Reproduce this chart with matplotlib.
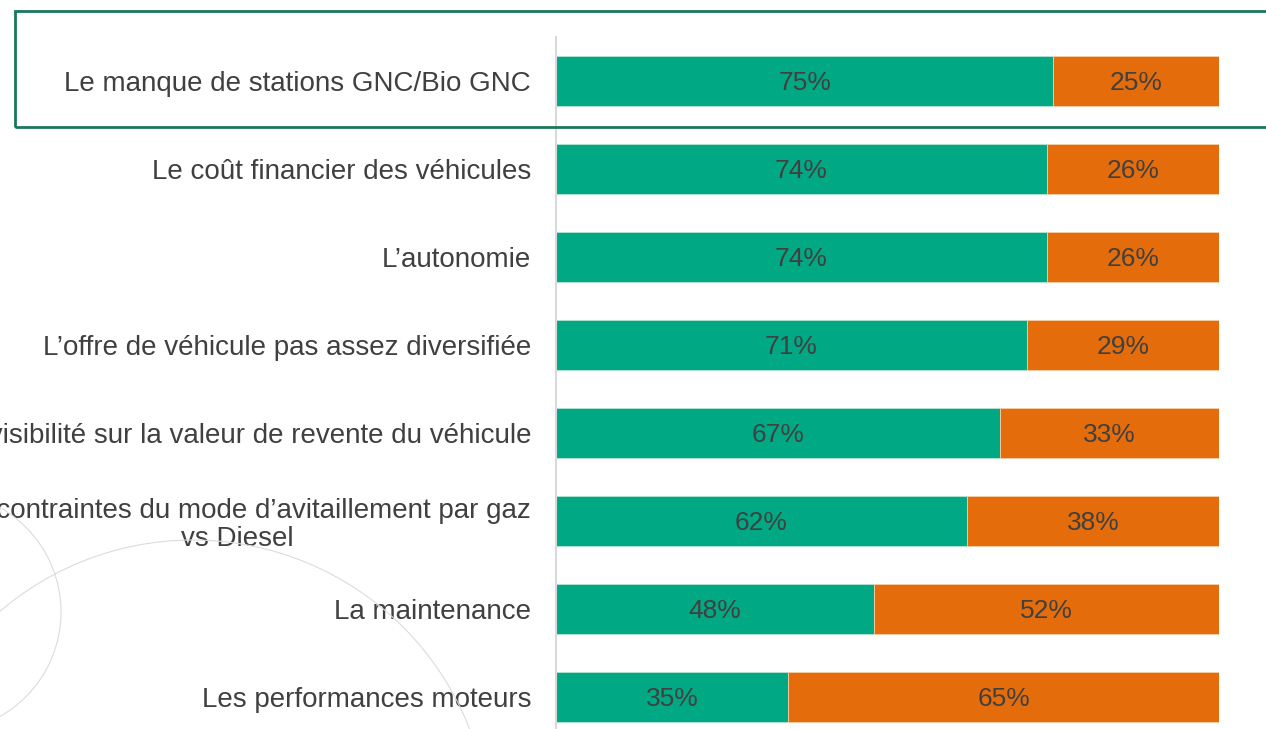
import matplotlib.pyplot as plt
from matplotlib.patches import Rectangle, Circle

# Daten
categories = [
    "Le manque de stations GNC/Bio GNC",
    "Le coût financier des véhicules",
    "L\u2019autonomie",
    "L\u2019offre de véhicule pas assez diversifiée",
    "Le manque de visibilité sur la valeur de revente du véhicule",
    "Les contraintes du mode d\u2019avitaillement par gaz\nvs Diesel",
    "La maintenance",
    "Les performances moteurs",
]
part_green = [75, 74, 74, 71, 67, 62, 48, 35]
part_orange = [25, 26, 26, 29, 33, 38, 52, 65]

green = '#00A884'
orange = '#E46C0A'
txt = '#404040'

plt.rcParams['font.family'] = ['Liberation Sans', 'DejaVu Sans']

fig = plt.figure(figsize=(12.66, 7.29), dpi=100)
W, H = 1266, 729

# Kreise im Hintergrund (Deko), Angaben in Pixel
for cx, cy, r in [(-59, 612, 120), (193, 837, 297)]:
    c = Circle((cx / 100, (H - cy) / 100), r / 100, transform=fig.dpi_scale_trans,
               fill=False, edgecolor='#dcdcdc', linewidth=0.8, zorder=0)
    fig.patches.append(c)

ax = fig.add_axes([556 / W, 1 - 741 / H, 663 / W, 704 / H])
ax.patch.set_alpha(0)

y = list(range(len(categories)))
ax.barh(y, part_green, height=0.557, color=green, edgecolor='#b8e3d6', linewidth=0.6)
ax.barh(y, part_orange, left=part_green, height=0.557, color=orange, edgecolor='#f5cda8', linewidth=0.6)

for i in y:
    ax.text(part_green[i] / 2, i, f"{part_green[i]}%", ha='center', va='center_baseline',
            fontsize=19, color=txt)
    ax.text(part_green[i] + part_orange[i] / 2, i, f"{part_orange[i]}%", ha='center',
            va='center_baseline', fontsize=19, color=txt)

ax.set_xlim(0, 100)
ax.set_ylim(7.5, -0.5)
ax.set_yticks(y)
ax.set_yticklabels(categories, fontsize=20, color=txt, linespacing=1.1)
ax.tick_params(axis='y', length=0, pad=18)
ax.set_xticks([])
for s in ['top', 'right', 'bottom']:
    ax.spines[s].set_visible(False)
ax.spines['left'].set_color('#d9d9d9')
ax.spines['left'].set_linewidth(1.5)
for lab in ax.get_yticklabels():
    lab.set_multialignment('center')

# Hervorhebung erste Zeile
rect = Rectangle((15 / W, 1 - 127 / H), 1.1, 116 / H, transform=fig.transFigure,
                 fill=False, edgecolor='#17795c', linewidth=2, clip_on=False)
fig.patches.append(rect)

fig.savefig('out.png', dpi=100)
